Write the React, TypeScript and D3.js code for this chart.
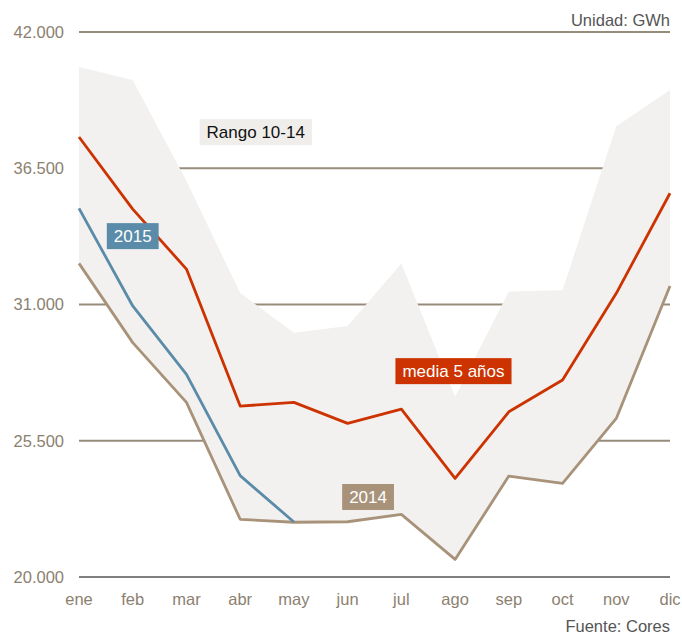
import React, { useRef, useEffect } from "react";
import * as d3 from "d3";

const months = ["ene", "feb", "mar", "abr", "may", "jun", "jul", "ago", "sep", "oct", "nov", "dic"];
const yTicks = [20000, 25500, 31000, 36500, 42000];

// media 5 años
const media5 = [37760, 34850, 32430, 26900, 27050, 26200, 26780, 23980, 26670, 27950, 31450, 35490];
// 2015 (ene-may)
const y2015 = [34880, 30940, 28180, 24090, 22220];
// 2014
const y2014 = [32660, 29460, 27050, 22330, 22210, 22230, 22530, 20710, 24075, 23780, 26400, 31750];
// rango 10-14
const rangeMax = [40590, 40060, 35990, 31460, 29860, 30130, 32660, 27280, 31520, 31580, 38200, 39660];
const rangeMin = [32660, 29460, 27050, 22330, 22210, 22230, 22530, 20710, 24075, 23780, 26400, 31750];

const FONT = "'Liberation Sans', Arial, sans-serif";

export default function App() {
  const svgRef = useRef<SVGSVGElement | null>(null);

  useEffect(() => {
    const svg = d3.select(svgRef.current);
    const width = 682;
    const height = 635;
    const margin = { top: 32, right: 12, bottom: 58, left: 79 };

    svg.selectAll("*").remove();

    const x = d3
      .scalePoint<string>()
      .domain(months)
      .range([margin.left, width - margin.right]);

    // fractional month position for the labels
    const xi = d3
      .scaleLinear()
      .domain([0, months.length - 1])
      .range([margin.left, width - margin.right]);

    const y = d3
      .scaleLinear()
      .domain([20000, 42000])
      .range([height - margin.bottom, margin.top]);

    const fmt = (d: number) => d3.format(",")(d).replace(/,/g, ".");

    // gridlines
    svg
      .append("g")
      .selectAll("line")
      .data(yTicks.filter((d) => d !== 20000))
      .join("line")
      .attr("x1", margin.left)
      .attr("x2", width - margin.right)
      .attr("y1", (d) => y(d))
      .attr("y2", (d) => y(d))
      .attr("stroke", "#978c7b")
      .attr("stroke-width", 1.8);

    // range band
    const area = d3
      .area<number>()
      .x((_, i) => x(months[i]) ?? 0)
      .y0((_, i) => y(rangeMin[i]))
      .y1((d) => y(d));

    svg.append("path").datum(rangeMax).attr("d", area).attr("fill", "#f2f1ef");

    // bottom axis line
    svg
      .append("line")
      .attr("x1", margin.left)
      .attr("x2", width - margin.right)
      .attr("y1", y(20000))
      .attr("y2", y(20000))
      .attr("stroke", "#7f7f7f")
      .attr("stroke-width", 2);

    // y labels
    svg
      .append("g")
      .selectAll("text")
      .data(yTicks)
      .join("text")
      .attr("x", 64)
      .attr("y", (d) => y(d))
      .attr("dy", "0.35em")
      .attr("text-anchor", "end")
      .attr("font-family", FONT)
      .attr("font-size", 16.5)
      .attr("fill", "#8c8170")
      .text((d) => fmt(d));

    // x labels
    svg
      .append("g")
      .selectAll("text")
      .data(months)
      .join("text")
      .attr("x", (d) => x(d) ?? 0)
      .attr("y", 605)
      .attr("text-anchor", "middle")
      .attr("font-family", FONT)
      .attr("font-size", 16.5)
      .attr("fill", "#8c8170")
      .text((d) => d);

    const line = d3
      .line<number>()
      .x((_, i) => x(months[i]) ?? 0)
      .y((d) => y(d));

    const series: [number[], string][] = [
      [y2014, "#a8937a"],
      [media5, "#cc3300"],
      [y2015, "#5a8ba8"],
    ];
    series.forEach(([data, color]) => {
      svg
        .append("path")
        .datum(data)
        .attr("d", line)
        .attr("fill", "none")
        .attr("stroke", color)
        .attr("stroke-width", 2.8)
        .attr("stroke-linejoin", "round");
    });

    // boxed labels
    const labels: [string, number, number, string, string][] = [
      ["Rango 10-14", 3.29, 37960, "#efeeeb", "#111"],
      ["2015", 1.0, 33760, "#5a8ba8", "#fff"],
      ["media 5 años", 6.97, 28310, "#cc3300", "#fff"],
      ["2014", 5.38, 23230, "#a8937a", "#fff"],
    ];
    labels.forEach(([txt, idx, val, bg, fg]) => {
      const g = svg.append("g");
      const rect = g.append("rect").attr("fill", bg);
      const t = g
        .append("text")
        .attr("x", xi(idx))
        .attr("y", y(val))
        .attr("dy", "0.36em")
        .attr("text-anchor", "middle")
        .attr("font-family", FONT)
        .attr("font-size", 17)
        .attr("fill", fg)
        .text(txt);
      const w = (t.node() as SVGTextElement).getComputedTextLength();
      rect
        .attr("x", xi(idx) - w / 2 - 7)
        .attr("y", y(val) - 13)
        .attr("width", w + 14)
        .attr("height", 26);
    });

    svg
      .append("text")
      .attr("x", width - margin.right)
      .attr("y", 26)
      .attr("text-anchor", "end")
      .attr("font-family", FONT)
      .attr("font-size", 16.5)
      .attr("fill", "#555")
      .text("Unidad: GWh");

    svg
      .append("text")
      .attr("x", width - margin.right)
      .attr("y", 632)
      .attr("text-anchor", "end")
      .attr("font-family", FONT)
      .attr("font-size", 16.5)
      .attr("fill", "#555")
      .text("Fuente: Cores");
  }, []);

  return (
    <div style={{ position: "absolute", left: 0, top: 0 }}>
      <svg ref={svgRef} width="682" height="635" />
    </div>
  );
}
